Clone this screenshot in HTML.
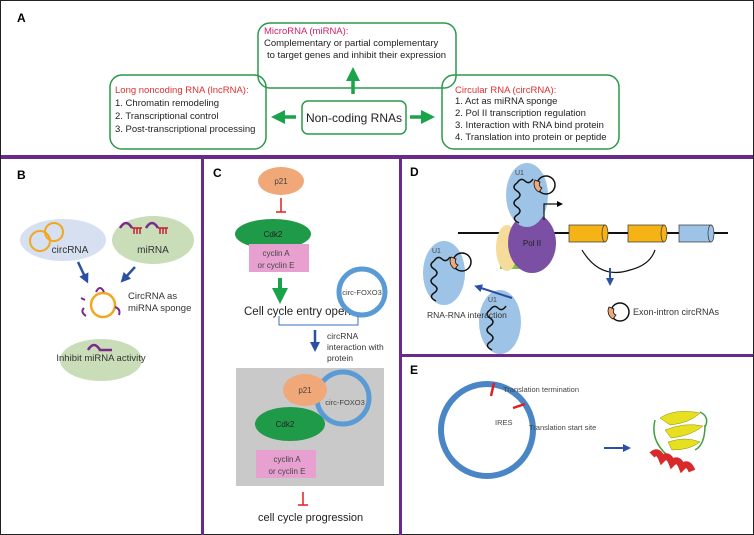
<!DOCTYPE html>
<html><head><style>
html,body{margin:0;padding:0;background:#fff;}
svg{display:block;font-family:"Liberation Sans",Arial,sans-serif;}
</style></head><body>
<svg width="754" height="535" viewBox="0 0 754 535" xmlns="http://www.w3.org/2000/svg">
<defs>
<marker id="gA" markerWidth="4" markerHeight="4" refX="2" refY="2" orient="auto"><path d="M0,0 L4,2 L0,4z" fill="#1aa34a"/></marker>
<marker id="bA" markerWidth="4" markerHeight="4" refX="2" refY="2" orient="auto"><path d="M0,0 L4,2 L0,4z" fill="#2b4fa3"/></marker>
<marker id="kA" markerWidth="6" markerHeight="6" refX="1" refY="3" orient="auto" markerUnits="userSpaceOnUse"><path d="M0,0 L6,3 L0,6z" fill="#000"/></marker>
<g id="u1">
<ellipse cx="0" cy="0" rx="21" ry="32" fill="#9dc3e6"/>
<path d="M-10,-12 q-6,4 0,8 q6,4 0,8 q-6,4 0,8 q6,4 0,8 q-6,4 2,8 M-10,-12 q4,-6 8,-2 q4,4 8,-2" fill="none" stroke="#111" stroke-width="1.5"/>
<text x="-12" y="-20" font-size="7" fill="#444">U1</text>
</g>
</defs>
<rect x="0.5" y="0.5" width="753" height="534" fill="#fff" stroke="#222" stroke-width="1"/>
<rect x="1" y="155" width="752" height="4" fill="#6a2a8c"/>
<rect x="201" y="157" width="3" height="378" fill="#6a2a8c"/>
<rect x="399" y="157" width="3" height="378" fill="#6a2a8c"/>
<rect x="400" y="354" width="353" height="3" fill="#6a2a8c"/>

<text x="17" y="22" font-size="12" font-weight="bold">A</text>
<rect x="258" y="23" width="198" height="65" rx="12" fill="none" stroke="#2a9a4a" stroke-width="1.5"/>
<text x="264" y="34" font-size="9.5" fill="#d0216a">MicroRNA (miRNA):</text>
<text x="264" y="46" font-size="9.5" fill="#222">Complementary or partial complementary</text>
<text x="267" y="58" font-size="9.5" fill="#222">to target genes and inhibit their expression</text>
<rect x="110" y="75" width="156" height="74" rx="12" fill="none" stroke="#2a9a4a" stroke-width="1.5"/>
<text x="115" y="93" font-size="9.5" fill="#e03030">Long noncoding RNA (lncRNA):</text>
<text x="115" y="106" font-size="9.5" fill="#222">1. Chromatin remodeling</text>
<text x="115" y="119" font-size="9.5" fill="#222">2. Transcriptional control</text>
<text x="115" y="132" font-size="9.5" fill="#222">3. Post-transcriptional processing</text>
<rect x="302" y="101" width="104" height="33" rx="6" fill="none" stroke="#2a9a4a" stroke-width="1.5"/>
<text x="354" y="122" font-size="12" text-anchor="middle" fill="#222">Non-coding RNAs</text>
<rect x="442" y="75" width="177" height="74" rx="12" fill="none" stroke="#2a9a4a" stroke-width="1.5"/>
<text x="455" y="93" font-size="9.5" fill="#e03030">Circular RNA (circRNA):</text>
<text x="455" y="104" font-size="9.5" fill="#222">1. Act as miRNA sponge</text>
<text x="455" y="116" font-size="9.5" fill="#222">2. Pol II transcription regulation</text>
<text x="455" y="128" font-size="9.5" fill="#222">3. Interaction with RNA bind protein</text>
<text x="455" y="140" font-size="9.5" fill="#222">4. Translation into protein or peptide</text>
<line x1="353" y1="94" x2="353" y2="74" stroke="#1aa34a" stroke-width="3.5" marker-end="url(#gA)"/>
<line x1="296" y1="117" x2="278" y2="117" stroke="#1aa34a" stroke-width="3.5" marker-end="url(#gA)"/>
<line x1="410" y1="117" x2="428" y2="117" stroke="#1aa34a" stroke-width="3.5" marker-end="url(#gA)"/>

<text x="17" y="179" font-size="12" font-weight="bold">B</text>
<ellipse cx="63" cy="240" rx="43" ry="21" fill="#d6e0f0"/>
<circle cx="40" cy="241" r="10" fill="none" stroke="#f0a820" stroke-width="2"/>
<circle cx="54" cy="232" r="9" fill="none" stroke="#f0a820" stroke-width="2"/>
<text x="70" y="253" font-size="10" text-anchor="middle" fill="#333">circRNA</text>
<ellipse cx="153" cy="240" rx="41" ry="24" fill="#c8ddb8"/>
<path d="M120,228 q6,-10 12,0 M146,228 q6,-10 12,0" fill="none" stroke="#7a2a8a" stroke-width="2.5"/>
<path d="M132,228 h10 M158,228 h10 M134,228v6 M137,228v6 M140,228v6 M160,228v6 M163,228v6 M166,228v6" stroke="#c02030" stroke-width="1.5"/>
<text x="153" y="253" font-size="10" text-anchor="middle" fill="#333">miRNA</text>
<line x1="78" y1="262" x2="86" y2="279" stroke="#2b4fa3" stroke-width="2.5" marker-end="url(#bA)"/>
<line x1="135" y1="267" x2="124" y2="279" stroke="#2b4fa3" stroke-width="2.5" marker-end="url(#bA)"/>
<circle cx="103" cy="305" r="12" fill="none" stroke="#f0a820" stroke-width="2.5"/>
<path d="M96,292 q4,-8 8,0 M85,300 l-4,-2 M84,308 q-4,4 2,8 M115,307 q6,2 4,8" fill="none" stroke="#7a2a8a" stroke-width="2"/>
<text x="128" y="299" font-size="9.5" fill="#333">CircRNA as</text>
<text x="128" y="311" font-size="9.5" fill="#333">miRNA sponge</text>
<ellipse cx="101" cy="360" rx="41" ry="21" fill="#c8ddb8"/>
<path d="M88,350 q6,-10 12,0 h12" fill="none" stroke="#7a2a8a" stroke-width="2.5"/>
<text x="101" y="361" font-size="9.5" text-anchor="middle" fill="#333">Inhibit miRNA activity</text>

<text x="213" y="177" font-size="12" font-weight="bold">C</text>
<ellipse cx="281" cy="181" rx="23" ry="14" fill="#f0a878"/>
<text x="281" y="184" font-size="8" text-anchor="middle" fill="#444">p21</text>
<path d="M281,198 v14 M276,212 h10" stroke="#e02020" stroke-width="1.5"/>
<ellipse cx="273" cy="234" rx="38" ry="15" fill="#1e9a48"/>
<text x="273" y="237" font-size="8" text-anchor="middle" fill="#222">Cdk2</text>
<rect x="249" y="244" width="60" height="28" fill="#e8a0d0"/>
<text x="276" y="256" font-size="8" text-anchor="middle" fill="#444">cyclin A</text>
<text x="276" y="268" font-size="8" text-anchor="middle" fill="#444">or cyclin E</text>
<line x1="280" y1="278" x2="280" y2="296" stroke="#1aa34a" stroke-width="4" marker-end="url(#gA)"/>
<text x="244" y="315" font-size="11.5" fill="#222">Cell cycle entry open</text>
<circle cx="362" cy="292" r="23" fill="none" stroke="#5b9bd5" stroke-width="5"/>
<text x="362" y="295" font-size="7.5" text-anchor="middle" fill="#444">circ-FOXO3</text>
<path d="M279,316 v9 h79 v-9" fill="none" stroke="#3a6fc0" stroke-width="1"/>
<line x1="315" y1="330" x2="315" y2="347" stroke="#2b4fa3" stroke-width="2.5" marker-end="url(#bA)"/>
<text x="327" y="339" font-size="8.5" fill="#333">circRNA</text>
<text x="327" y="350" font-size="8.5" fill="#333">interaction with</text>
<text x="327" y="361" font-size="8.5" fill="#333">protein</text>
<rect x="236" y="368" width="148" height="118" fill="#c9c9c9"/>
<circle cx="343" cy="398" r="26" fill="none" stroke="#5b9bd5" stroke-width="5"/>
<ellipse cx="305" cy="390" rx="22" ry="16" fill="#f0a878"/>
<text x="305" y="393" font-size="8" text-anchor="middle" fill="#444">p21</text>
<text x="345" y="405" font-size="7.5" text-anchor="middle" fill="#444">circ-FOXO3</text>
<ellipse cx="290" cy="424" rx="35" ry="17" fill="#1e9a48"/>
<text x="285" y="427" font-size="8" text-anchor="middle" fill="#222">Cdk2</text>
<rect x="256" y="450" width="60" height="28" fill="#e8a0d0"/>
<text x="287" y="462" font-size="8" text-anchor="middle" fill="#444">cyclin A</text>
<text x="287" y="474" font-size="8" text-anchor="middle" fill="#444">or cyclin E</text>
<path d="M303,492 v13 M298,505 h10" stroke="#e02020" stroke-width="1.5"/>
<text x="258" y="521" font-size="11" fill="#222">cell cycle progression</text>

<text x="410" y="176" font-size="12" font-weight="bold">D</text>
<line x1="458" y1="233" x2="728" y2="233" stroke="#111" stroke-width="2"/>
<g fill="#f5b316" stroke="#333" stroke-width="0.7">
<rect x="569" y="225" width="36" height="17"/><ellipse cx="605" cy="233.5" rx="3" ry="8.5"/>
<rect x="628" y="225" width="36" height="17"/><ellipse cx="664" cy="233.5" rx="3" ry="8.5"/>
</g>
<g fill="#9dc3e6" stroke="#333" stroke-width="0.7">
<rect x="679" y="225" width="32" height="17"/><ellipse cx="711" cy="233.5" rx="3" ry="8.5"/>
</g>
<path d="M582,250 Q600,280 630,270 Q650,265 655,250" fill="none" stroke="#111" stroke-width="1.2"/>
<line x1="610" y1="268" x2="610" y2="282" stroke="#2b4fa3" stroke-width="2" marker-end="url(#bA)"/>
<rect x="500" y="256" width="33" height="13" fill="#7dc242"/>
<ellipse cx="507" cy="248" rx="11" ry="23" fill="#f5dc9a"/>
<ellipse cx="532" cy="243" rx="24" ry="30" fill="#7b4fa3"/>
<text x="532" y="246" font-size="8" text-anchor="middle" fill="#222">Pol II</text>
<use href="#u1" x="527" y="195"/>
<path d="M544,220 v-16 h14" fill="none" stroke="#111" stroke-width="1.2" marker-end="url(#kA)"/>
<use href="#u1" x="444" y="273"/>
<use href="#u1" x="500" y="322"/>
<g fill="none" stroke="#111" stroke-width="1.5">
<circle cx="546" cy="185" r="9"/><circle cx="462" cy="262" r="9"/><circle cx="620" cy="312" r="9"/>
</g>
<g fill="#f0a878" stroke="#111" stroke-width="0.8">
<path d="M535,180 a9,9 0 0 0 4,12 l3,-4 a4,4 0 0 1 -2,-6z"/>
<path d="M451,257 a9,9 0 0 0 4,12 l3,-4 a4,4 0 0 1 -2,-6z"/>
<path d="M609,307 a9,9 0 0 0 4,12 l3,-4 a4,4 0 0 1 -2,-6z"/>
</g>
<line x1="512" y1="298" x2="478" y2="287" stroke="#2b4fa3" stroke-width="2" marker-end="url(#bA)"/>
<text x="427" y="318" font-size="8.5" fill="#333">RNA-RNA interaction</text>
<text x="633" y="315" font-size="9" fill="#333">Exon-intron circRNAs</text>

<text x="410" y="374" font-size="12" font-weight="bold">E</text>
<circle cx="487" cy="430" r="46" fill="none" stroke="#4a86c5" stroke-width="6"/>
<path d="M494,383 l-3,13 M513,408 l12,-4" stroke="#e02020" stroke-width="2.5"/>
<text x="503" y="392" font-size="7.5" fill="#444">Translation termination</text>
<text x="495" y="425" font-size="7.5" fill="#444">IRES</text>
<text x="529" y="430" font-size="7.5" fill="#444">Translation start site</text>
<line x1="604" y1="448" x2="627" y2="448" stroke="#2b4fa3" stroke-width="2" marker-end="url(#bA)"/>
<g>
<path d="M660,418 q15,-10 40,-5 q-10,10 -30,12z M665,430 q20,-8 38,-4 q-12,10 -32,12z M668,442 q18,-6 32,0 q-10,8 -28,8z" fill="#e6e020" stroke="#8a8a10" stroke-width="0.5"/>
<path d="M655,420 q-5,20 12,35 M700,412 q10,5 5,15 M705,425 q0,20 -10,25" fill="none" stroke="#40a040" stroke-width="1.5"/>
<path d="M652,455 q6,-6 10,4 q6,-6 10,4 q6,-6 10,4 q6,-6 10,4" fill="none" stroke="#d82a2a" stroke-width="7"/>
</g>
</svg>
</body></html>
